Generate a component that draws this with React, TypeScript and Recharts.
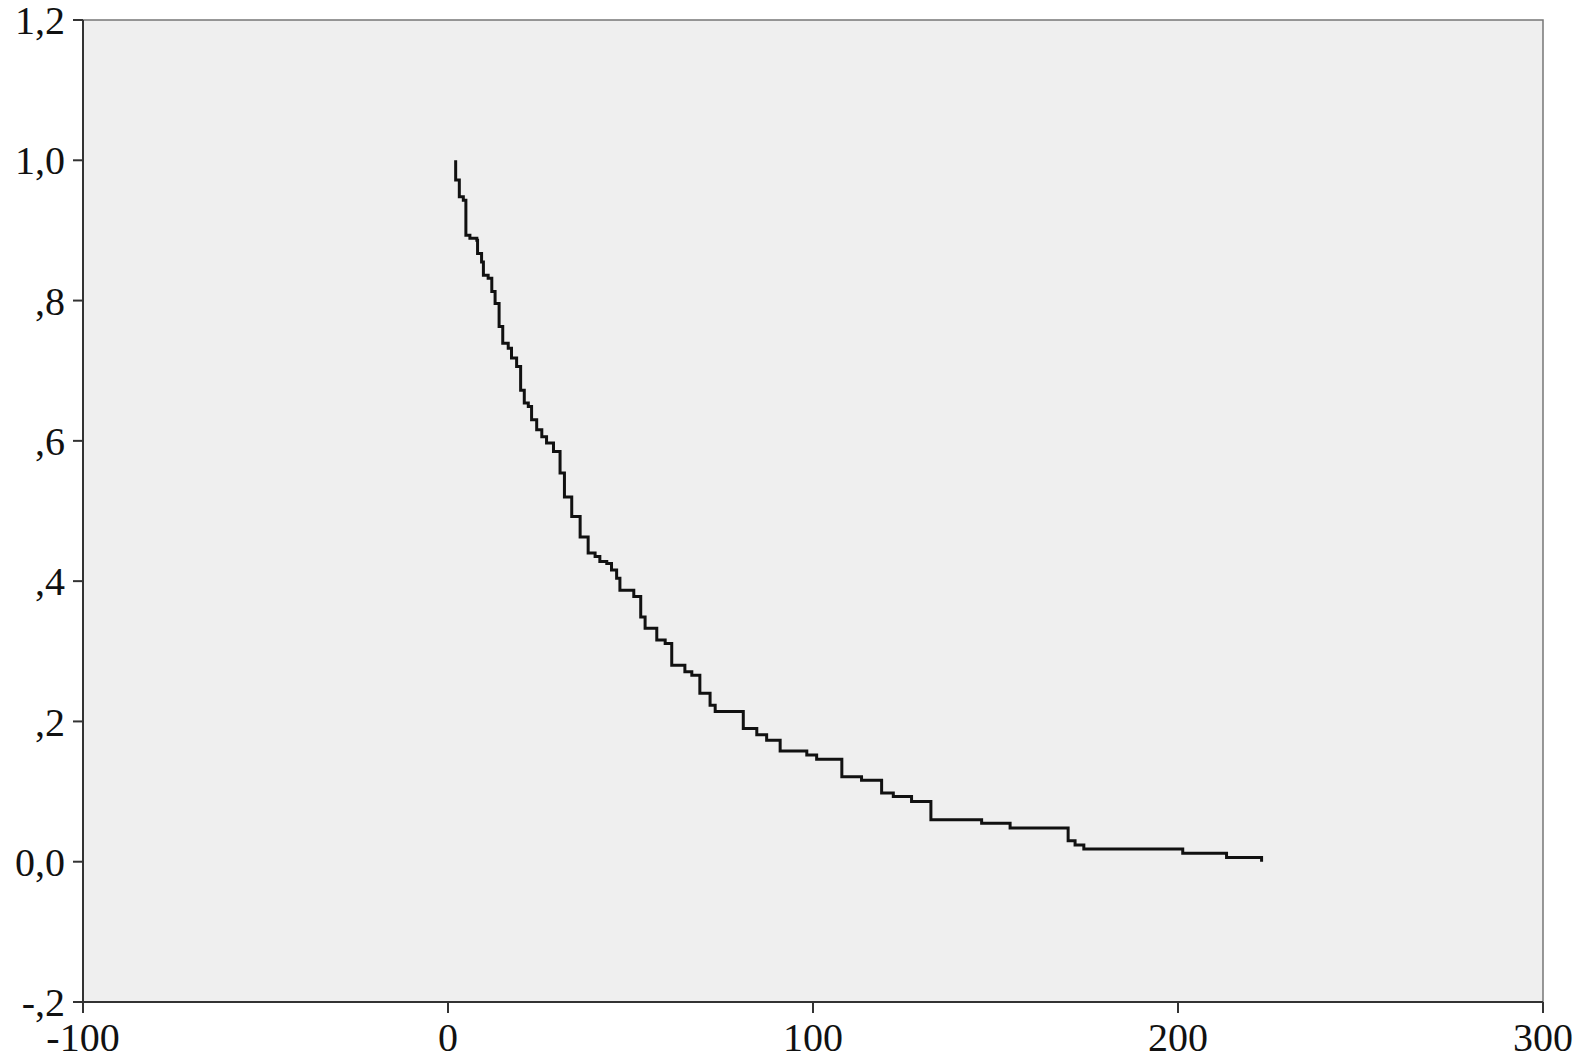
import {
  LineChart,
  Line,
  XAxis,
  YAxis,
  ReferenceArea,
} from "recharts";

// survival time steps (Kaplan-Meier style curve)
const times = [
  2.1, 2.1, 3.1, 4.2, 4.9, 6.0, 7.9, 8.1, 9.2, 9.7,
  11.0, 12.0, 12.9, 14.0, 15.0, 16.5, 17.4, 18.8, 19.9, 20.9,
  22.0, 22.9, 24.3, 25.7, 27.0, 28.9, 30.7, 31.9, 33.9, 36.2,
  38.4, 40.3, 41.6, 43.5, 44.8, 46.2, 47.1, 50.9, 52.8, 54.0,
  57.2, 59.5, 61.3, 64.9, 66.8, 69.0, 71.8, 73.2, 80.9, 84.6,
  87.3, 91.0, 98.3, 101.0, 107.9, 113.3, 118.8, 122.0, 127.0, 132.3,
  146.2, 154.0, 169.9, 171.8, 174.2, 201.3, 213.3, 222.9,
];

const survival = [
  1.0, 0.972, 0.948, 0.943, 0.893, 0.889, 0.886, 0.867, 0.855, 0.836,
  0.832, 0.813, 0.796, 0.763, 0.739, 0.732, 0.718, 0.706, 0.672, 0.654,
  0.649, 0.63, 0.616, 0.606, 0.597, 0.585, 0.554, 0.52, 0.492, 0.463,
  0.44, 0.435, 0.428, 0.425, 0.416, 0.404, 0.387, 0.378, 0.349, 0.333,
  0.316, 0.311, 0.28, 0.271, 0.266, 0.24, 0.223, 0.214, 0.19, 0.181,
  0.173, 0.158, 0.152, 0.146, 0.121, 0.116, 0.098, 0.093, 0.086, 0.06,
  0.055, 0.048, 0.03, 0.024, 0.018, 0.012, 0.006, 0.0,
];

const xTicks = [-100, 0, 100, 200, 300];
const yTicks = [-0.2, 0, 0.2, 0.4, 0.6, 0.8, 1.0, 1.2];
const yTickLabels = ["-,2", "0,0", ",2", ",4", ",6", ",8", "1,0", "1,2"];

const data = times.map((t, i) => ({ t, s: survival[i] }));

const tickStyle = { fontFamily: "'Liberation Serif', 'Times New Roman', serif", fontSize: 40, fill: "#111" };

export default function App() {
  return (
    <div style={{ position: "absolute", left: 0, top: 0, width: 1583, height: 1062, background: "#fff" }}>
      <LineChart
        width={1583}
        height={1062}
        data={data}
        margin={{ top: 20, right: 40, left: 0, bottom: 0 }}
      >
        <ReferenceArea
          x1={-100}
          x2={300}
          y1={-0.2}
          y2={1.2}
          fill="#efefef"
          fillOpacity={1}
          stroke="#777"
          strokeWidth={1.5}
        />
        <XAxis
          type="number"
          dataKey="t"
          domain={[-100, 300]}
          ticks={xTicks}
          interval={0}
          height={60}
          tickSize={11}
          tickMargin={10}
          tick={tickStyle}
          axisLine={{ stroke: "#333", strokeWidth: 2 }}
          tickLine={{ stroke: "#333", strokeWidth: 2 }}
        />
        <YAxis
          type="number"
          domain={[-0.2, 1.2]}
          ticks={yTicks}
          interval={0}
          width={83}
          tickSize={10}
          tickMargin={8}
          tick={tickStyle}
          tickFormatter={(v: number) => yTickLabels[yTicks.findIndex((y) => Math.abs(y - v) < 1e-6)] ?? ""}
          axisLine={{ stroke: "#333", strokeWidth: 2 }}
          tickLine={{ stroke: "#333", strokeWidth: 2 }}
        />
        <Line
          type="stepAfter"
          dataKey="s"
          stroke="#111"
          strokeWidth={3}
          dot={false}
          isAnimationActive={false}
        />
      </LineChart>
    </div>
  );
}
